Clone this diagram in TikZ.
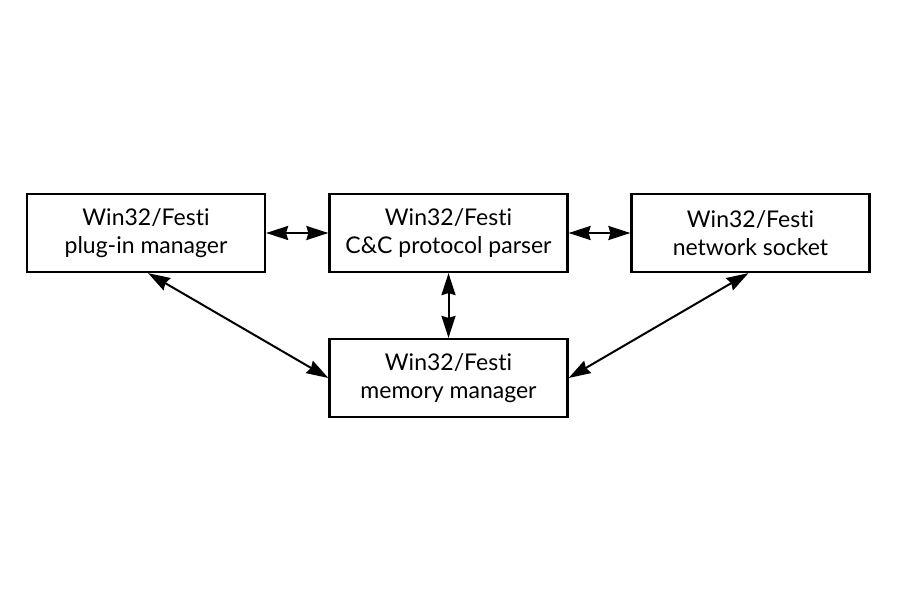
\documentclass[tikz,border=0pt]{standalone}
\usepackage{fontspec}
\setmainfont{Lato}[Ligatures={NoCommon,NoContextual}]
\usetikzlibrary{arrows.meta}
\newcommand{\fes}{Win32/Fes\kern0pt ti}
\begin{document}
\begin{tikzpicture}[x=1pt,y=-1pt,
  box/.style={draw,line width=2.2pt,minimum width=238pt,minimum height=78pt,inner sep=0pt,align=center,font=\fontsize{23}{28}\selectfont},
  tip/.tip={Stealth[length=22pt,width=14pt,inset=2pt]},
  conn/.style={line width=2pt,tip-tip}]
\useasboundingbox (0,0) rectangle (900,600);
\node[box] (plug) at (146,233) {\fes\\plug-in manager};
\node[box] (cc) at (448.5,233) {\fes\\C\&C protocol parser};
\node[box] (net) at (750.5,233) {\fes\\network socket};
\node[box] (mem) at (448.5,378) {\fes\\memory manager};
\draw[conn] (plug.east) -- (cc.west);
\draw[conn] (cc.east) -- (net.west);
\draw[conn] (cc.south) -- (mem.north);
\draw[conn] ([xshift=2pt]plug.south) -- (mem.west);
\draw[conn] ([xshift=-2pt]net.south) -- (mem.east);
\end{tikzpicture}
\end{document}
